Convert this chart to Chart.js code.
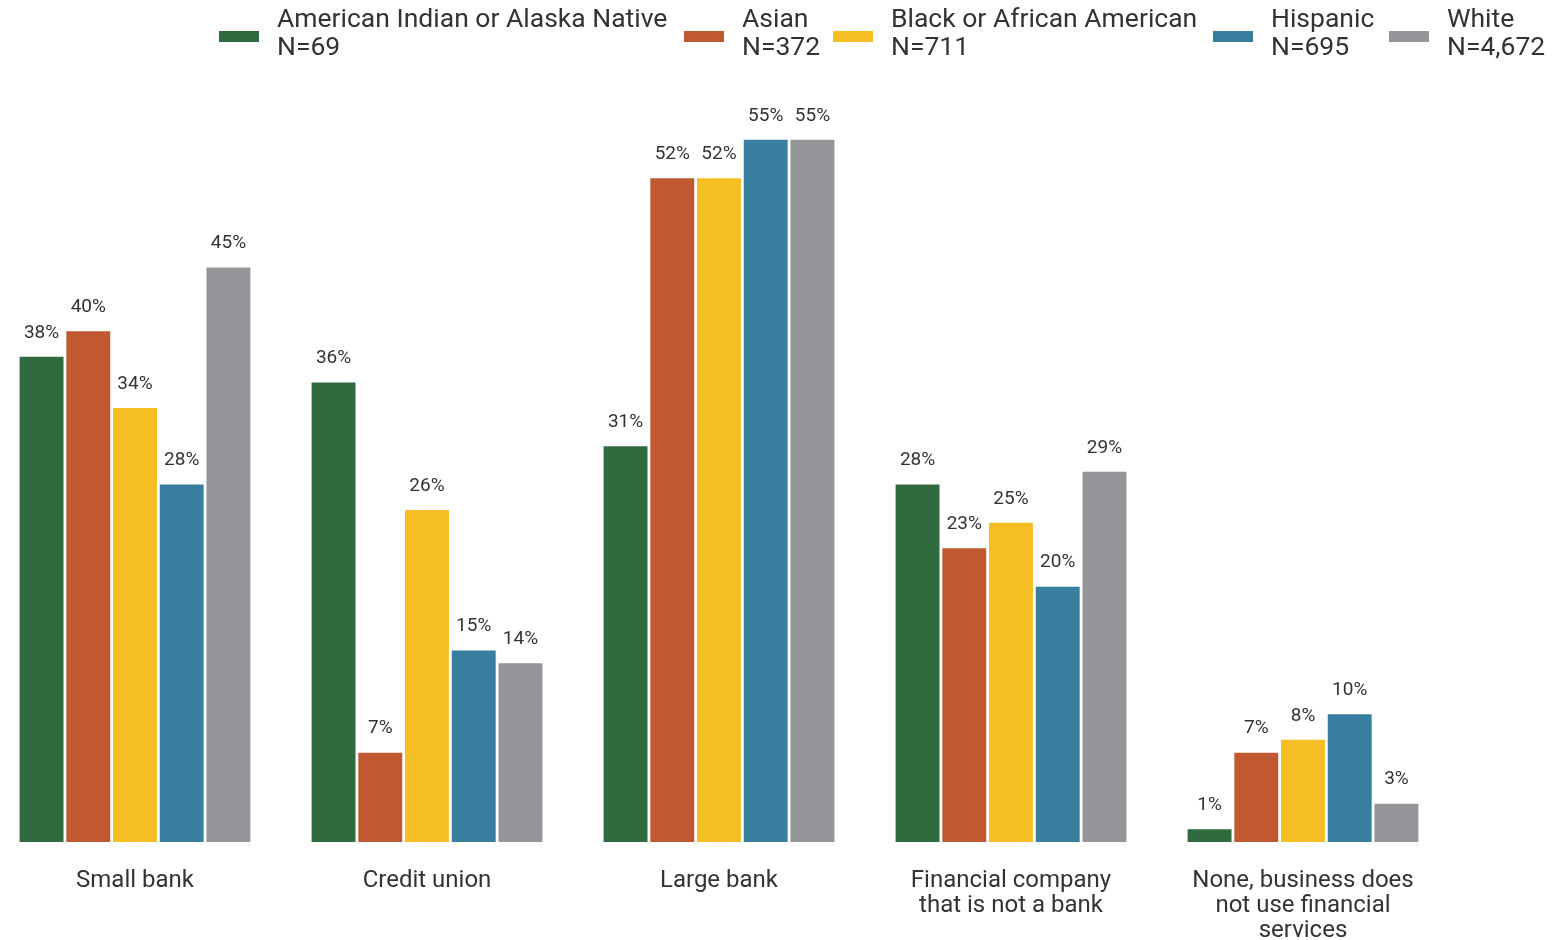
<!DOCTYPE html>
<html>
<head>
<meta charset="utf-8">
<script src="https://cdn.jsdelivr.net/npm/chart.js@4/dist/chart.umd.min.js"></script>
<style>
  html, body { margin: 0; padding: 0; background: #fff; overflow: hidden; }
  #wrap { position: absolute; left: -12px; top: 0; width: 1565px; height: 940px; }
</style>
</head>
<body>
<div id="wrap"><canvas id="chartBancos"></canvas></div>
<script>
const categorias = [
    'Small bank',
    'Credit union',
    'Large bank',
    ['Financial company', 'that is not a bank'],
    ['None, business does', 'not use financial', 'services']
]
const grupos = ['American Indian or Alaska Native', 'Asian', 'Black or African American', 'Hispanic', 'White']
const muestras = ['N=69', 'N=372', 'N=711', 'N=695', 'N=4,672']
const colores = ['#306a3f', '#c05831', '#f5be24', '#387e9f', '#939598']

const indigena = [38, 36, 31, 28, 1]
const asiatico = [40, 7, 52, 23, 7]
const afro = [34, 26, 52, 25, 8]
const hispano = [28, 15, 55, 20, 10]
const blanco = [45, 14, 55, 29, 3]
const series = [indigena, asiatico, afro, hispano, blanco]

// posiciones x de la leyenda (coordenadas de la pagina)
const legendaX = [219, 684, 833, 1213, 1389]
const OFFSET = 12

const fuente = 'Roboto, "Open Sans", sans-serif'

const etiquetas = {
    id: 'etiquetas',
    afterDatasetsDraw(chart) {
        const ctx = chart.ctx
        ctx.save()
        ctx.font = `19px ${fuente}`
        ctx.fillStyle = '#333333'
        ctx.textAlign = 'center'
        ctx.textBaseline = 'middle'
        chart.data.datasets.forEach((ds, i) => {
            const meta = chart.getDatasetMeta(i)
            meta.data.forEach((bar, j) => {
                ctx.fillText(ds.data[j] + '%', bar.x, bar.y - 24)
            })
        })
        ctx.restore()
    }
}

const leyenda = {
    id: 'leyenda',
    afterDraw(chart) {
        const ctx = chart.ctx
        ctx.save()
        ctx.font = `26.5px ${fuente}`
        ctx.textBaseline = 'middle'
        ctx.textAlign = 'left'
        grupos.forEach((g, i) => {
            const x = legendaX[i] + OFFSET
            ctx.fillStyle = colores[i]
            ctx.fillRect(x, 31, 40, 11)
            ctx.fillStyle = '#333333'
            ctx.fillText(g, x + 58, 20)
            ctx.fillText(muestras[i], x + 58, 48)
        })
        ctx.restore()
    }
}

const canvas = document.getElementById('chartBancos')
const context = canvas.getContext('2d')

const chartBancos = new Chart(context, {
    type: 'bar',
    data: {
        labels: categorias,
        datasets: series.map((datos, i) => ({
            label: grupos[i],
            data: datos,
            backgroundColor: colores[i],
            borderWidth: 0,
            categoryPercentage: 0.8,
            barPercentage: 0.94
        }))
    },
    options: {
        responsive: true,
        maintainAspectRatio: false,
        animation: false,
        layout: { padding: { left: 1, right: 104, top: 76, bottom: 0 } },
        plugins: {
            legend: { display: false },
            tooltip: { enabled: false }
        },
        scales: {
            x: {
                grid: { display: false, drawTicks: false },
                border: { display: false },
                afterFit(scale) { scale.height = 98 },
                ticks: {
                    color: '#333333',
                    font: { family: fuente, size: 24, lineHeight: 1.05 },
                    padding: 26,
                    maxRotation: 0,
                    autoSkip: false
                }
            },
            y: {
                display: false,
                min: 0,
                max: 60
            }
        }
    },
    plugins: [etiquetas, leyenda]
})
</script>
</body>
</html>
